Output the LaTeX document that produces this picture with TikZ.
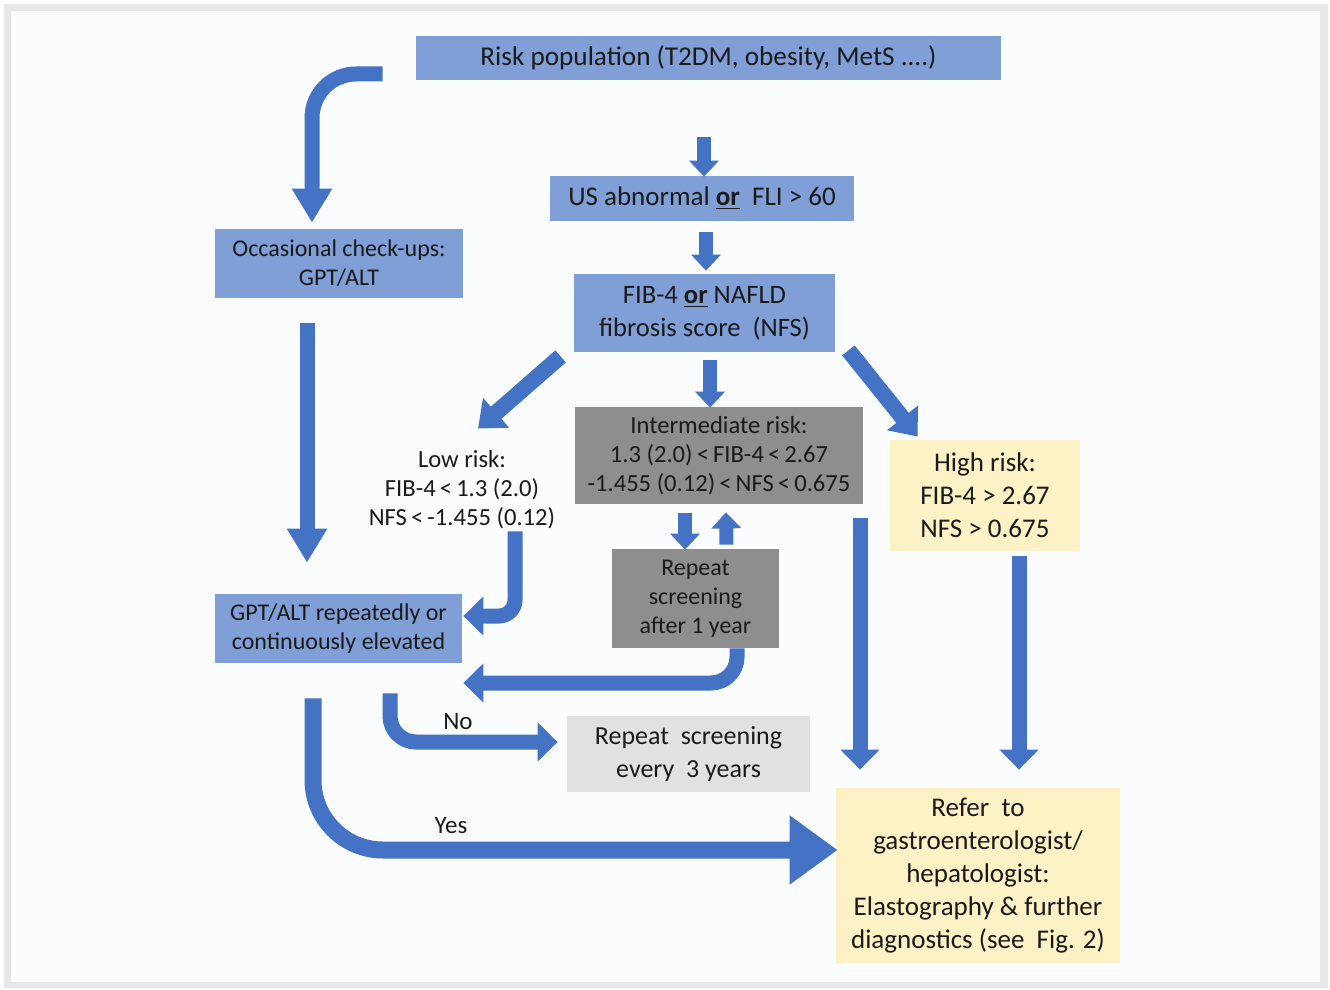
\documentclass[tikz,border=0pt]{standalone}
\usepackage{fontspec}
\setmainfont{Carlito}
\usetikzlibrary{arrows.meta,calc}
\definecolor{ablue}{HTML}{4472C4}
\definecolor{bfill}{HTML}{7F9FD6}
\definecolor{gfill}{HTML}{8E8E8E}
\definecolor{lgfill}{HTML}{E1E1E1}
\definecolor{yfill}{HTML}{FDF1C6}
\definecolor{txt}{HTML}{1A1A1A}
\definecolor{framegray}{HTML}{E6E7E9}
\definecolor{bgc}{HTML}{FBFCFE}
\begin{document}
\begin{tikzpicture}[x=0.5pt,y=-0.5pt,
  box/.style={draw=none, inner sep=0pt, align=center, text=txt},
  fA/.style={font=\fontsize{12}{14.5}\selectfont},
  fI/.style={font=\fontsize{12.3}{14.5}\selectfont},
  fB/.style={font=\fontsize{13.5}{16.5}\selectfont},
  fC/.style={font=\fontsize{13}{16.5}\selectfont},
  blue box/.style={box, fill=bfill},
  gray box/.style={box, fill=gfill},
  lgray box/.style={box, fill=lgfill},
  yellow box/.style={box, fill=yfill},
  sarrow/.style={draw=ablue, line width=7pt, -{Triangle[width=14.5pt,length=8pt]}},
  marrow/.style={draw=ablue, line width=7.5pt, -{Triangle[width=19pt,length=10pt]}},
  larrow/.style={draw=ablue, line width=7.5pt, -{Triangle[width=19pt,length=17pt]}},
  darrow/.style={draw=ablue, line width=8pt, -{Triangle[width=19pt,length=12pt]}},
  yarrow/.style={draw=ablue, line width=8.5pt, -{Triangle[width=33pt,length=24pt]}},
  lbl/.style={text=txt, font=\fontsize{12.5}{14.5}\selectfont, inner sep=0pt}
]
\fill[white] (0,0) rectangle (1330,990);
\fill[framegray] (4,4) rectangle (1328,988);
\fill[bgc] (11,11) rectangle (1320,982);
\useasboundingbox (0,0) rectangle (1330,990);

% nodes
\node[blue box, minimum width=292.5pt, minimum height=22pt, font=\fontsize{13.6}{16}\selectfont] (risk) at (708.5,58)
  {\raisebox{-1pt}{Risk population (T2DM, obesity, MetS ....)}};
\node[blue box, fB, minimum width=152pt, minimum height=22.5pt] (us) at (702,198.5)
  {\raisebox{-1pt}{US abnormal \underline{\textbf{or}}\ \ FLI > 60}};
\node[blue box, font=\fontsize{13.3}{16.5}\selectfont, minimum width=130.5pt, minimum height=39pt] (fib) at (704.5,313)
  {FIB-4 \underline{\textbf{or}} NAFLD\\fibrosis score\ \ (NFS)};
\node[blue box, fA, minimum width=124pt, minimum height=34.5pt] (occ) at (339,263.5)
  {Occasional check-ups:\\GPT/ALT};
\node[blue box, fA, minimum width=123.5pt, minimum height=34.5pt] (gpt) at (338.5,628.5)
  {GPT/ALT repeatedly or\\continuously elevated};
\node[gray box, fI, minimum width=144pt, minimum height=48.5pt] (inter) at (719,455.5)
  {Intermediate risk:\\1.3 (2.0)\,<\,FIB-4\,<\,2.67\\-1.455 (0.12)\,<\,NFS\,<\,0.675};
\node[gray box, fA, minimum width=83.5pt, minimum height=49.5pt] (rep1) at (695.5,598.5)
  {Repeat\\screening\\after 1 year};
\node[box, fI, minimum width=100pt, minimum height=45pt] (low) at (462,490)
  {Low risk:\\FIB-4\,<\,1.3 (2.0)\\NFS\,<\,-1.455 (0.12)};
\node[yellow box, fB, minimum width=95pt, minimum height=55.5pt] (high) at (985,495.5)
  {High risk:\\FIB-4 > 2.67\\NFS > 0.675};
\node[lgray box, fC, minimum width=121.5pt, minimum height=38pt] (rep3) at (688.5,754)
  {Repeat\ \ screening\\every\ \ 3 years};
\node[yellow box, fB, minimum width=142pt, minimum height=87.5pt] (refer) at (978,875.5)
  {Refer\ \ to\\gastroenterologist/\\hepatologist:\\Elastography \& further\\diagnostics (see\ \ Fig. 2)};

% connectors
\draw[larrow, rounded corners=22pt] ($(risk.west)+(-33,16)$) -| ($(occ.north)+(-27,-6)$);
\draw[sarrow] ($(risk.south)+(-4.5,57)$) -- ($(us.north)+(2,1)$);
\draw[sarrow] ($(us.south)+(4,11)$) -- ($(fib.north)+(1.5,-3)$);
\draw[darrow] ($(fib.south west)+(-13,4)$) -- ($(low.north)+(16,-16)$);
\draw[sarrow] ($(fib.south)+(5.5,8)$) -- ($(inter.north)+(-9,1)$);
\draw[darrow] ($(fib.south east)+(13,-2)$) -- ($(high.north west)+(28,-3)$);
\draw[sarrow] ($(inter.south)+(-34,9)$) -- ($(rep1.north)+(-10.5,1)$);
\draw[sarrow] ($(rep1.north)+(31,-4)$) -- ($(inter.south)+(7,8)$);
\draw[larrow] ($(occ.south)+(-32,25)$) -- ($(gpt.north)+(-31.5,-31)$);
\draw[marrow, rounded corners=8pt] ($(low.south)+(53,-4)$) |- ($(gpt.east)+(1,-12.5)$);
\draw[marrow, rounded corners=13pt] ($(rep1.south)+(41.5,0)$) |- ($(gpt.east)+(1,54.5)$);
\draw[marrow, rounded corners=13pt] ($(gpt.south)+(51.5,30)$) |- ($(rep3.west)+(-9,-12)$);
\draw[yarrow, rounded corners=35pt] ($(gpt.south)+(-25.5,35)$) |- ($(refer.west)+(2,-25.5)$);
\draw[marrow] ($(inter.south)+(141,14)$) -- ($(refer.north)+(-118,-18)$);
\draw[marrow] ($(high.south)+(34,5)$) -- ($(refer.north)+(41,-18)$);

\node[lbl] (no) at (458,722) {No};
\node[lbl] (yes) at (451,826) {Yes};
\end{tikzpicture}
\end{document}
